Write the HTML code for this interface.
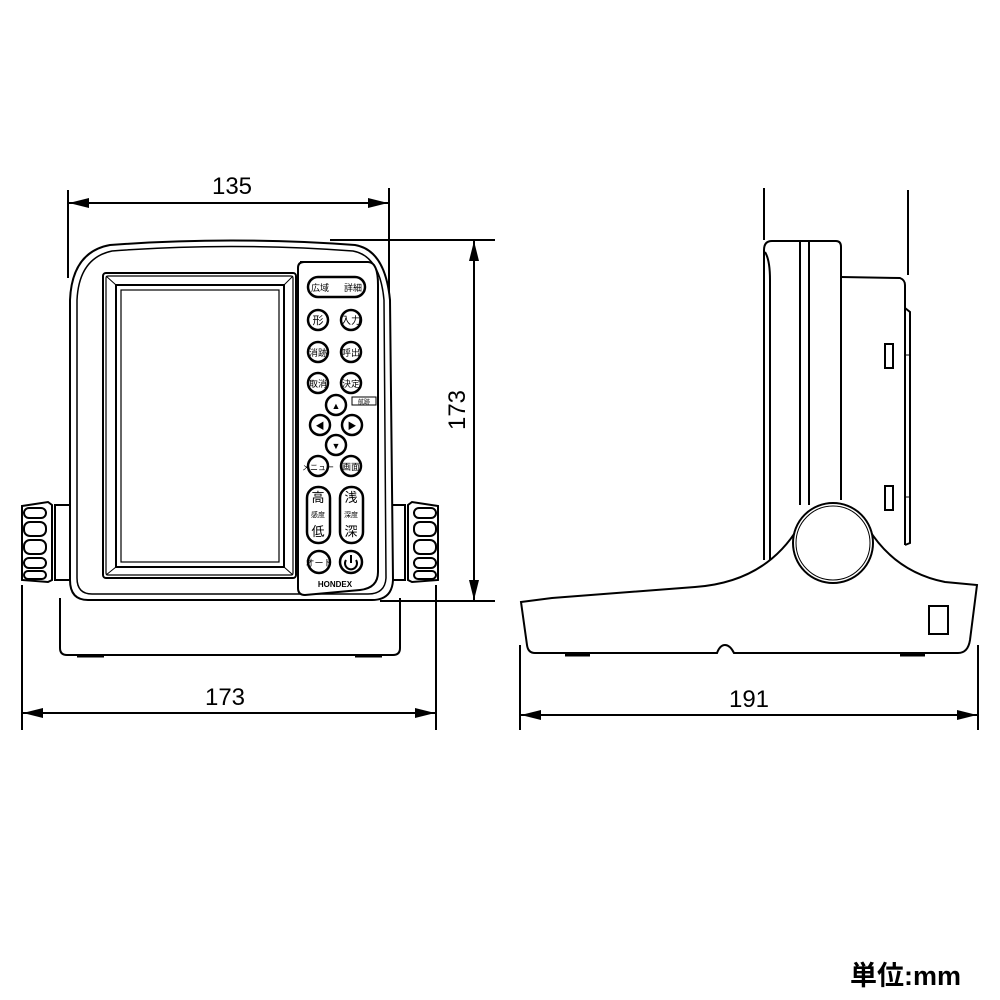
<!DOCTYPE html>
<html><head><meta charset="utf-8"><style>
html,body{margin:0;padding:0;background:#fff;width:1000px;height:1000px;overflow:hidden}
svg{display:block}
text{font-family:"Liberation Sans","Noto Sans CJK JP",sans-serif;fill:#000}
</style></head><body>
<svg width="1000" height="1000" viewBox="0 0 1000 1000" xmlns="http://www.w3.org/2000/svg">
<defs>
<marker id="ar" viewBox="0 0 20 10" refX="20" refY="5" markerWidth="20" markerHeight="10" orient="auto-start-reverse" markerUnits="userSpaceOnUse"><path d="M0,0 L20,5 L0,10 z" fill="#000"/></marker>
</defs>
<g fill="none" stroke="#000" stroke-width="2">
<line x1="68" y1="190" x2="68" y2="278"/>
<line x1="389" y1="188" x2="389" y2="292"/>
<line x1="69" y1="203" x2="388" y2="203" marker-start="url(#ar)" marker-end="url(#ar)"/>
<line x1="330" y1="240" x2="495" y2="240"/>
<line x1="380" y1="601" x2="495" y2="601"/>
<line x1="474" y1="241" x2="474" y2="600" marker-start="url(#ar)" marker-end="url(#ar)"/>
<line x1="22" y1="585" x2="22" y2="730"/>
<line x1="436" y1="585" x2="436" y2="730"/>
<line x1="23" y1="713" x2="435" y2="713" marker-start="url(#ar)" marker-end="url(#ar)"/>
<line x1="520" y1="645" x2="520" y2="730"/>
<line x1="978" y1="645" x2="978" y2="730"/>
<line x1="521" y1="715" x2="977" y2="715" marker-start="url(#ar)" marker-end="url(#ar)"/>
<line x1="764" y1="188" x2="764" y2="240"/>
<line x1="908" y1="190" x2="908" y2="275"/>

<!-- FRONT VIEW -->
<path d="M60,598 L60,648 Q60,655 67,655 L393,655 Q400,655 400,648 L400,598" />
<line x1="77" y1="656" x2="104" y2="656" stroke-width="3"/>
<line x1="355" y1="656" x2="382" y2="656" stroke-width="3"/>
<rect x="55" y="505" width="15" height="75"/>
<rect x="390" y="505" width="15" height="75"/>
<g>
<path d="M22,506 L48,502 L52,505 L52,580 L48,582 L22,580 z"/>
<rect x="24" y="508" width="22" height="10" rx="5"/>
<rect x="24" y="522" width="22" height="14" rx="6"/>
<rect x="24" y="540" width="22" height="14" rx="6"/>
<rect x="24" y="558" width="22" height="10" rx="5"/>
<rect x="24" y="571" width="22" height="8" rx="4"/>
</g>
<g transform="translate(460,0) scale(-1,1)">
<path d="M22,506 L48,502 L52,505 L52,580 L48,582 L22,580 z"/>
<rect x="24" y="508" width="22" height="10" rx="5"/>
<rect x="24" y="522" width="22" height="14" rx="6"/>
<rect x="24" y="540" width="22" height="14" rx="6"/>
<rect x="24" y="558" width="22" height="10" rx="5"/>
<rect x="24" y="571" width="22" height="8" rx="4"/>
</g>
<path d="M70,300 Q72,252 110,245 Q230,236 355,245 Q385,250 390,300 L393,580 Q392,600 372,600 L88,600 Q70,600 70,580 Z" fill="#fff"/>
<path d="M77,300 Q79,258 112,251 Q230,242 353,251 Q380,256 384,300 L386,578 Q385,594 368,594 L92,594 Q77,594 77,578 Z" stroke-width="1.5"/>
<rect x="103" y="273" width="193" height="305" rx="3"/>
<rect x="106" y="276" width="187" height="299" rx="2" stroke-width="1.2"/>
<rect x="116" y="285" width="168" height="282"/>
<rect x="121" y="290" width="158" height="272" stroke-width="1.2"/>
<line x1="106" y1="276" x2="116" y2="285" stroke-width="1"/>
<line x1="293" y1="276" x2="284" y2="285" stroke-width="1"/>
<line x1="106" y1="575" x2="116" y2="567" stroke-width="1"/>
<line x1="293" y1="575" x2="284" y2="567" stroke-width="1"/>
<path d="M300,262 L368,262 Q378,262 378,285 L378,572 Q378,588 360,590 L305,595 Q298,595 298,588 L298,268 Q298,262 304,262 Z" fill="#fff"/>
<g stroke-width="2.5">
<rect x="308" y="277" width="57" height="20" rx="10"/>
<circle cx="318" cy="320" r="10"/><circle cx="351" cy="320" r="10"/>
<circle cx="318" cy="352" r="10"/><circle cx="351" cy="352" r="10"/>
<circle cx="318" cy="383" r="10"/><circle cx="351" cy="383" r="10"/>
<circle cx="336" cy="405" r="10"/>
<circle cx="320" cy="425" r="10"/><circle cx="352" cy="425" r="10"/>
<circle cx="336" cy="445" r="10"/>
<circle cx="318" cy="466" r="10"/><circle cx="351" cy="466" r="10"/>
<rect x="307" y="487" width="23" height="56" rx="11"/>
<rect x="340" y="487" width="23" height="56" rx="11"/>
<circle cx="319" cy="562" r="11"/><circle cx="351" cy="562" r="11"/>
</g>
<rect x="352" y="397" width="24" height="8" stroke-width="1"/>
<path d="M346,560 A6,6 0 1 0 356,560 M351,555 L351,563" stroke-width="2"/>

<!-- SIDE VIEW -->
<path d="M764,250 Q764,241 772,241 L836,241 Q841,241 841,247 L841,500"/>
<line x1="800" y1="241" x2="800" y2="505"/>
<line x1="809" y1="241" x2="809" y2="505"/>
<path d="M765,252 Q770,260 770,280 L770,560"/>
<line x1="764" y1="250" x2="764" y2="560"/>
<path d="M841,277 L900,278 Q905,280 905,285 L905,545"/>
<path d="M905,308 L910,312 L910,543 L905,545"/>
<line x1="905" y1="355" x2="910" y2="355" stroke-width="1"/>
<line x1="905" y1="497" x2="910" y2="497" stroke-width="1"/>
<rect x="885" y="344" width="8" height="24"/>
<rect x="885" y="486" width="8" height="24"/>
<path d="M521,602 L552,598 L695,587 Q765,582 798,528 L868,528 Q895,572 945,582 L977,585 L970,640 Q968,653 958,653 L734,653 Q730,645 725,645 Q720,645 717,653 L535,653 Q528,653 527,645 Z" fill="#fff"/>
<line x1="565" y1="655" x2="590" y2="655" stroke-width="3"/>
<line x1="900" y1="655" x2="925" y2="655" stroke-width="3"/>
<rect x="929" y="606" width="19" height="28"/>
<circle cx="833" cy="543" r="40" fill="#fff"/>
<circle cx="833" cy="543" r="37" stroke-width="1"/>
</g>
<text x="232" y="194" font-size="24" text-anchor="middle">135</text>
<text x="225" y="705" font-size="24" text-anchor="middle">173</text>
<text x="749" y="707" font-size="24" text-anchor="middle">191</text>
<text x="0" y="0" font-size="24" text-anchor="middle" transform="translate(465,410) rotate(-90)">173</text>
<text x="850" y="985" font-size="27" font-weight="bold">単位:mm</text>
<g font-size="9" text-anchor="middle">
<text x="320" y="291">広域</text><text x="353" y="291">詳細</text>
<text x="318" y="324" font-size="11">形</text><text x="351" y="324" font-size="10">入力</text>
<text x="318" y="356">消跡</text><text x="351" y="356">呼出</text>
<text x="318" y="387">取消</text><text x="351" y="387">決定</text>
<text x="364" y="404" font-size="6">航跡</text>
<text x="336" y="409">▲</text><text x="320" y="429">◀</text><text x="352" y="429">▶</text><text x="336" y="449">▼</text>
<text x="318" y="470" font-size="8">メニュー</text><text x="351" y="470">画面</text>
<text x="318" y="502" font-size="13">高</text><text x="318" y="517" font-size="7">感度</text><text x="318" y="536" font-size="13">低</text>
<text x="351" y="502" font-size="13">浅</text><text x="351" y="517" font-size="7">深度</text><text x="351" y="536" font-size="13">深</text>
<text x="319" y="566" font-size="9">オート</text>
<text x="335" y="587" font-size="8" font-weight="bold">HONDEX</text>
</g>
</svg>
</body></html>
